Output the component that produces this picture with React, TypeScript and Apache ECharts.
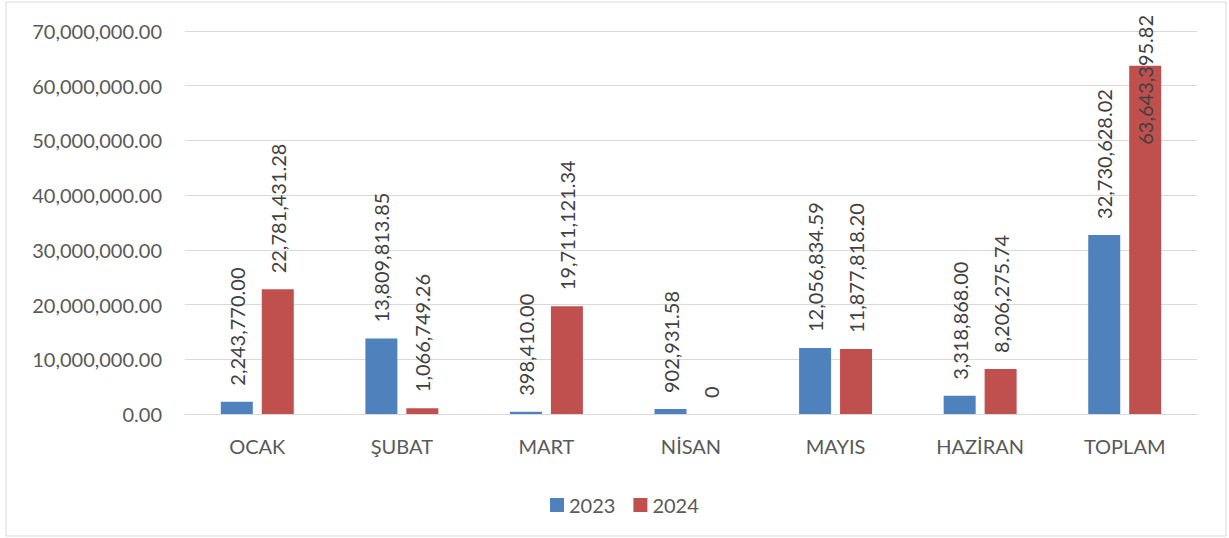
import React, { useEffect, useRef } from "react";
import * as echarts from "echarts";

const categories = ["OCAK", "ŞUBAT", "MART", "NİSAN", "MAYIS", "HAZİRAN", "TOPLAM"];
const values2023 = [2243770.0, 13809813.85, 398410.0, 902931.58, 12056834.59, 3318868.0, 32730628.02];
const values2024 = [22781431.28, 1066749.26, 19711121.34, 0, 11877818.2, 8206275.74, 63643395.82];
const seriesNames = ["2023", "2024"];
const yTicks = { min: 0, max: 70000000, interval: 10000000 };

const FONT = "Lato";
const fmt = (v: number) =>
  v === 0
    ? "0"
    : v.toLocaleString("en-US", { minimumFractionDigits: 2, maximumFractionDigits: 2 });

export default function App() {
  const ref = useRef<HTMLDivElement>(null);
  useEffect(() => {
    if (!ref.current) return;
    const chart = echarts.init(ref.current, undefined, { renderer: "svg" });
    const labelBase = {
      show: true,
      position: "top",
      rotate: 90,
      align: "left",
      verticalAlign: "middle",
      distance: 16,
      fontFamily: FONT,
      fontSize: 20,
      color: "#404040",
      formatter: (p: any) => fmt(p.value),
    };
    const data2024 = values2024.map((v, i) =>
      i === values2024.length - 1
        ? { value: v, label: { position: ["50%", 79], distance: 0 } }
        : v
    );
    chart.setOption({
      animation: false,
      backgroundColor: "#ffffff",
      textStyle: { fontFamily: FONT },
      graphic: [
        {
          type: "rect",
          shape: { x: 6, y: 2, width: 1220, height: 534 },
          style: { fill: "none", stroke: "#D9D9D9", lineWidth: 1 },
          silent: true,
          z: -1,
        },
      ],
      grid: { left: 185, right: 32, top: 31, bottom: 124 },
      legend: {
        data: seriesNames,
        left: 545,
        top: 490,
        itemWidth: 14,
        itemHeight: 14,
        itemGap: 18,
        icon: "rect",
        textStyle: { fontFamily: FONT, fontSize: 20, color: "#595959" },
      },
      xAxis: {
        type: "category",
        data: categories,
        axisLine: { lineStyle: { color: "#D9D9D9", width: 1 } },
        axisTick: { show: false },
        axisLabel: { fontFamily: FONT, fontSize: 20, color: "#595959", margin: 22 },
      },
      yAxis: {
        type: "value",
        min: yTicks.min,
        max: yTicks.max,
        interval: yTicks.interval,
        axisLine: { show: false },
        axisTick: { show: false },
        splitLine: { lineStyle: { color: "#D9D9D9", width: 1 } },
        axisLabel: {
          fontFamily: FONT,
          fontSize: 20,
          color: "#595959",
          margin: 23,
          formatter: (v: number) =>
            v.toLocaleString("en-US", { minimumFractionDigits: 2, maximumFractionDigits: 2 }),
        },
      },
      series: [
        {
          name: seriesNames[0],
          type: "bar",
          data: values2023,
          barWidth: 32,
          barGap: "28%",
          itemStyle: { color: "#4F81BD" },
          label: labelBase,
        },
        {
          name: seriesNames[1],
          type: "bar",
          data: data2024,
          barWidth: 32,
          barGap: "28%",
          itemStyle: { color: "#C0504D" },
          label: labelBase,
        },
      ],
    });
    return () => chart.dispose();
  }, []);
  return (
    <div
      ref={ref}
      style={{ position: "fixed", left: 0, top: 0, width: 1229, height: 538, background: "#fff" }}
    />
  );
}
